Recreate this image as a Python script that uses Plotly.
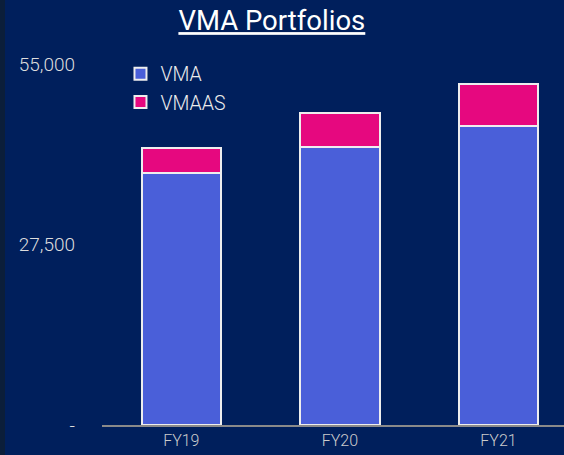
import plotly.graph_objects as go

years = ["FY19", "FY20", "FY21"]
vma = [38500, 42400, 45700]
vmaas = [3800, 5200, 6300]
y_ticks = [0, 27500, 55000]
y_tick_text = ["-", "27,500", "55,000"]

BG = "#001f5c"
FONT = "Roboto"

fig = go.Figure()
fig.add_trace(go.Bar(
    x=years, y=vma, name="VMA", legendgroup="a",
    marker=dict(color="#4a5fd9", line=dict(color="#eeeeee", width=2)),
))
fig.add_trace(go.Bar(
    x=years, y=vmaas, name="VMAAS", legendgroup="b",
    marker=dict(color="#e6087f", line=dict(color="#eeeeee", width=2)),
))

fig.update_layout(
    barmode="stack",
    bargap=0.5,
    width=564, height=455,
    paper_bgcolor=BG, plot_bgcolor=BG,
    margin=dict(l=102, r=0, t=45, b=30),
    title=dict(text="<u>VMA Portfolios</u>", x=0.482, xanchor="center",
               y=0.955, yanchor="middle",
               font=dict(family=FONT, size=27.5, color="#ffffff")),
    font=dict(family=FONT, color="#e0e0e0"),
    legend=dict(x=0.04, y=0.975, xanchor="left", yanchor="top",
                traceorder="normal", bgcolor="rgba(0,0,0,0)",
                font=dict(family=FONT, size=19.5, color="#ececec", weight=300),
                itemwidth=30, tracegroupgap=8),
    showlegend=True,
)
fig.update_xaxes(
    range=[-0.5, 2.413], showgrid=False, zeroline=False,
    showline=True, linecolor="#8a8a8a", linewidth=2,
    tickfont=dict(family=FONT, size=16, color="#cccccc", weight=300), ticks="",
)
fig.update_yaxes(
    range=[0, 58000], showgrid=False, zeroline=False, showline=False,
    tickvals=y_ticks, ticktext=y_tick_text, ticks="", ticklabelstandoff=26,
    tickfont=dict(family=FONT, size=19, color="#dddddd", weight=300),
)
fig.add_shape(type="rect", xref="paper", yref="paper",
              x0=-102 / 462, x1=-97 / 462, y0=-30 / 380, y1=425 / 380,
              fillcolor="#0b1e3a", line=dict(width=0), layer="below")

fig.write_html("out.html", config={"displayModeBar": False},
               post_script="document.body.style.margin='0';")
